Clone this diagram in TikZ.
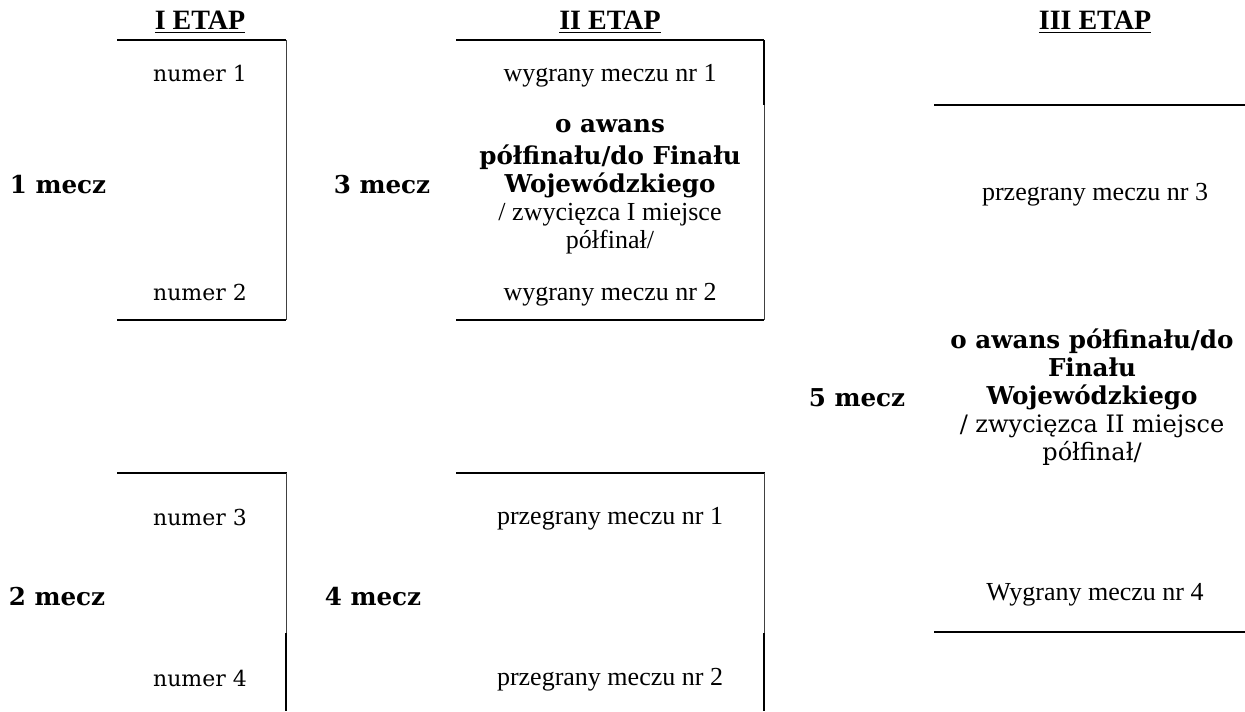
\documentclass[tikz,border=0pt]{standalone}
\usepackage{fontspec}
\setmainfont{Liberation Serif}
\newfontfamily\geo{DejaVu Serif}
\usetikzlibrary{positioning}

\newcommand{\awb}[1]{{\geo\bfseries\fontsize{12.3}{14}\selectfont #1}}
\newcommand{\awr}[1]{{\geo\fontsize{12}{13}\selectfont #1}}

\tikzset{
  etap/.style={font=\bfseries\fontsize{14}{16}\selectfont},
  opis/.style={font=\fontsize{13}{15}\selectfont},
  numer/.style={font=\geo\fontsize{11}{13}\selectfont},
  mecz/.style={font=\geo\bfseries\fontsize{12.3}{14}\selectfont},
  blok/.style={align=center, font=\fontsize{13}{14}\selectfont},
  gruba/.style={line width=1pt},
  cienka/.style={line width=0.5pt, black!75}
}

\begin{document}
\begin{tikzpicture}[x=0.5pt, y=-0.5pt]
    \useasboundingbox (0,0) rectangle (1245,711);

    % naglowki etapow
    \node (e1) [etap] at (200,22) {\underline{I ETAP}};
    \node (e2) [etap] at (610,22) {\underline{II ETAP}};
    \node (e3) [etap] at (1095,22) {\underline{III ETAP}};

    % I etap
    \node (n1) [numer] at (200,73) {numer 1};
    \node (n2) [numer] at (200,292) {numer 2};
    \node (m1) [mecz] at (58,185) {1 mecz};
    \node (n3) [numer] at (200,517) {numer 3};
    \node (n4) [numer] at (200,678) {numer 4};
    \node (m2) [mecz] at (57,597) {2 mecz};

    \draw [gruba] (117,40) -- (286,40);
    \draw [gruba] (117,320) -- (286,320);
    \draw [cienka] (286,40) -- (286,320);
    \draw [gruba] (117,473) -- (287,473);
    \draw [cienka] (286,473) -- (286,633);
    \draw [gruba] (286,633) -- (286,711);

    % II etap
    \node (w1) [opis] at (610,76) {wygrany meczu nr 1};
    \node (w2) [opis] at (610,295) {wygrany meczu nr 2};
    \node (a1) [blok] at (610,187) {\awb{o awans}\\[2pt]
        \awb{półfinału/do Finału}\\ \awb{Wojewódzkiego}\\
        / zwycięzca I miejsce\\ półfinał/};
    \node (m3) [mecz] at (382,185) {3 mecz};
    \node (p1) [opis] at (610,519) {przegrany meczu nr 1};
    \node (p2) [opis] at (610,680) {przegrany meczu nr 2};
    \node (m4) [mecz] at (373,597) {4 mecz};

    \draw [gruba] (456,40) -- (764,40);
    \draw [gruba] (764,40) -- (764,105);
    \draw [cienka] (764,105) -- (764,320);
    \draw [gruba] (456,320) -- (764,320);
    \draw [gruba] (456,473) -- (765,473);
    \draw [cienka] (764,473) -- (764,633);
    \draw [gruba] (764,633) -- (764,711);

    % III etap
    \node (p3) [opis] at (1095,195) {przegrany meczu nr 3};
    \node (w4) [opis] at (1095,595) {Wygrany meczu nr 4};
    \node (a2) [blok] at (1092,397) {\awb{o awans półfinału/do}\\
        \awb{Finału}\\ \awb{Wojewódzkiego}\\
        \awr{/ zwycięzca II miejsce}\\ \awr{półfinał/}};
    \node (m5) [mecz] at (857,398) {5 mecz};

    \draw [gruba] (934,105) -- (1245,105);
    \draw [gruba] (934,632) -- (1245,632);
\end{tikzpicture}
\end{document}
